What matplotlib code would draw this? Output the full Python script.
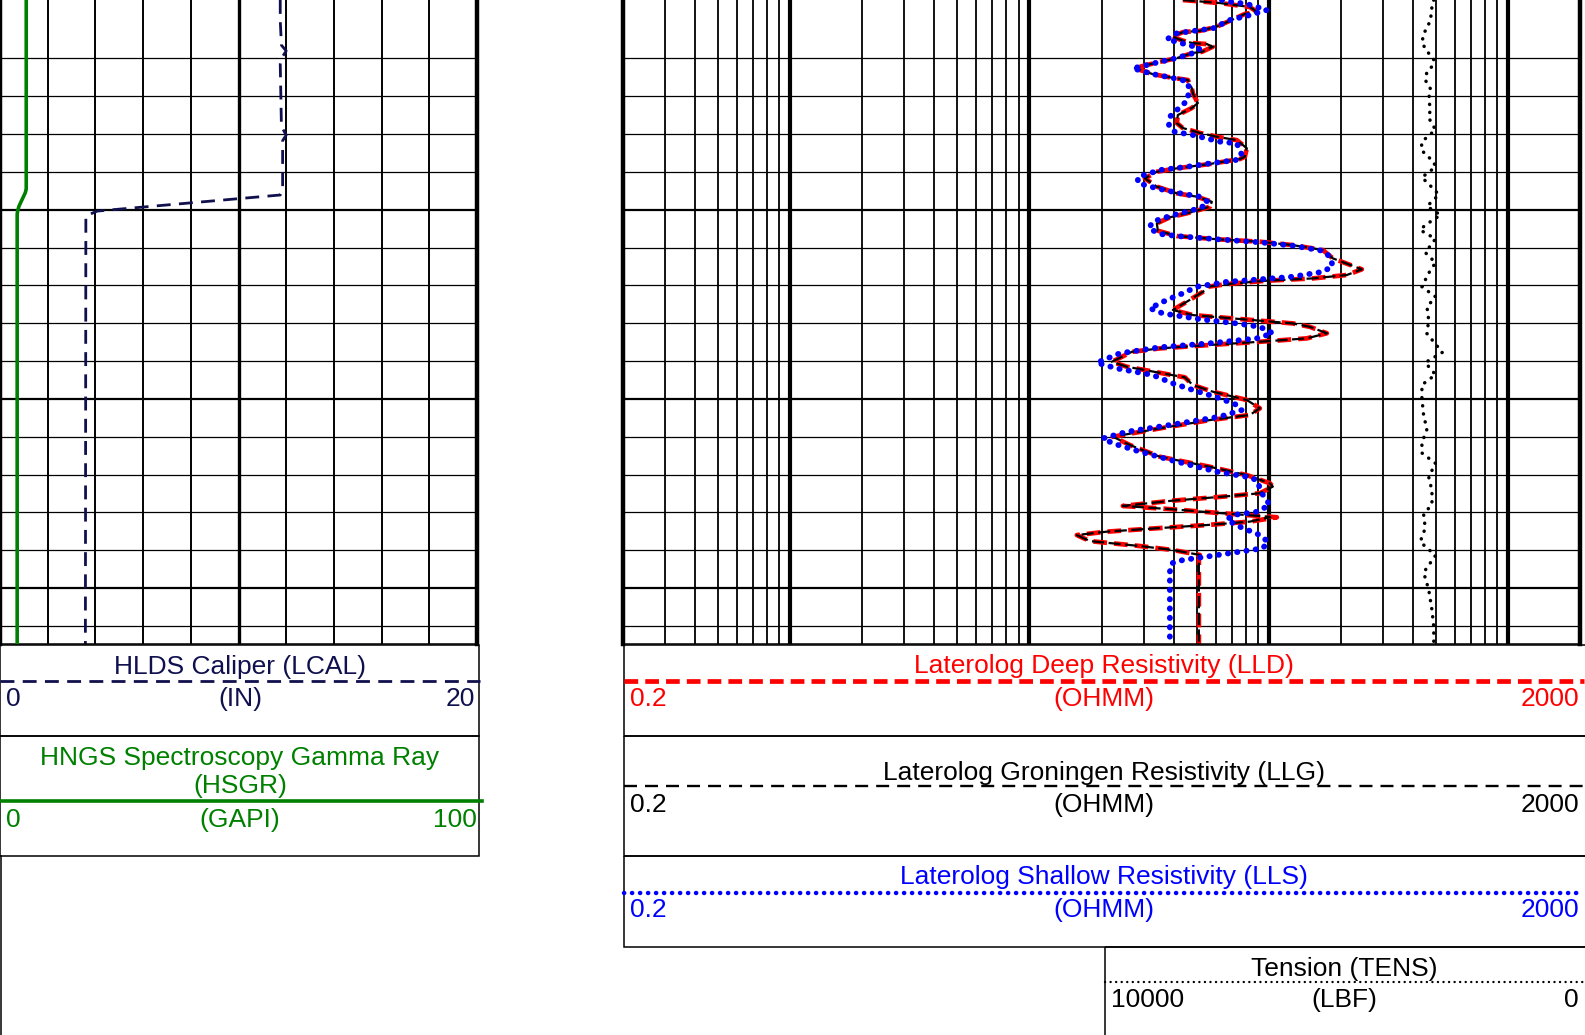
import numpy as np
import matplotlib.pyplot as plt
from matplotlib.patches import Rectangle
from matplotlib.ticker import FixedLocator, NullFormatter

plt.rcParams['font.family'] = ['Liberation Sans', 'DejaVu Sans']

# ---- curve data (depth in ft) ----
top_depth, bottom_depth = 2998.91, 3032.96

cal_depth = [2998.91, 2999.97, 3001.30, 3001.60, 3002.00, 3002.30, 3005.60, 3006.05, 3006.35,
             3008.95, 3009.22, 3010.07, 3010.33, 3032.96]
cal_in = [11.75, 11.75, 11.80, 12.0, 11.80, 11.75, 11.80, 12.0, 11.85,
          11.85, 11.75, 4.08, 3.60, 3.58]

gr_depth = [2998.91, 3008.90, 3009.10, 3009.80, 3010.05, 3010.25, 3032.96]
gr_api = [5.5, 5.5, 5.3, 4.0, 3.7, 3.6, 3.6]

res_depth = [2998.91, 2999.07, 2999.28, 2999.53, 2999.65, 3000.32, 3000.54, 3000.61, 3000.85, 3001.06,
             3001.19, 3001.24, 3001.38, 3001.65, 3001.71, 3001.98, 3002.18, 3002.44, 3002.52, 3002.83,
             3003.00, 3003.14, 3003.58, 3003.85, 3004.36, 3004.62, 3004.99, 3005.42, 3005.68, 3005.94,
             3006.14, 3006.32, 3006.75, 3007.20, 3007.32, 3007.58, 3007.81, 3007.99, 3008.34, 3008.78,
             3009.13, 3009.31, 3009.58, 3009.84, 3010.11, 3010.40, 3010.72, 3011.11, 3011.39, 3011.56,
             3011.69, 3011.87, 3012.13, 3012.57, 3013.15, 3013.45, 3013.63, 3013.75, 3013.93, 3014.07,
             3014.34, 3014.86, 3015.30, 3015.57, 3015.79, 3016.01, 3016.19, 3016.53, 3016.80, 3016.98,
             3017.15, 3017.33, 3017.51, 3018.04, 3018.30, 3018.69, 3018.86, 3019.27, 3019.62, 3020.06,
             3020.50, 3020.85, 3021.12, 3021.56, 3022.00, 3022.44, 3023.06, 3023.59, 3024.03, 3024.46,
             3024.64, 3024.99, 3025.17, 3025.38, 3025.66, 3025.84, 3026.05, 3026.23, 3026.26, 3026.49,
             3026.67, 3026.84, 3027.02, 3027.20, 3027.52, 3027.78, 3027.99, 3028.25, 3028.52, 3032.96]

lld_ohmm = [43.75, 62.47, 83.37, 89.19, 79.45, 60.69, 51.53, 43.75, 39.36, 43.75,
            48.18, 55.11, 58.40, 52.53, 48.18, 41.30, 35.07, 28.93, 27.57, 32.79,
            38.61, 45.92, 47.72, 48.18, 50.55, 47.72, 41.70, 41.30, 43.75, 51.53,
            60.69, 73.57, 81.00, 79.45, 75.71, 56.74, 41.30, 34.07, 30.36, 34.07,
            41.30, 50.06, 57.84, 56.74, 48.18, 38.61, 34.07, 34.40, 41.30, 60.69,
            91.80, 126.1, 168.3, 185.3, 245.0, 212.1, 152.9, 98.20, 66.83, 55.65,
            53.04, 45.49, 39.74, 48.18, 77.94, 126.1, 148.5, 175.0, 144.3, 91.80,
            56.74, 35.07, 26.79, 22.10, 25.53, 37.51, 44.60, 48.18, 58.40, 81.00,
            91.80, 83.37, 56.74, 35.07, 22.31, 26.28, 35.07, 56.74, 81.00, 101.06,
            104.02, 91.80, 64.30, 39.74, 24.57, 39.74, 64.30, 101.06, 108.09, 83.37,
            55.11, 34.07, 21.06, 15.78, 17.88, 28.93, 39.74, 51.53, 51.04, 51.04]

llg_ohmm = [43.75, 62.47, 83.37, 89.19, 79.45, 60.69, 51.53, 43.75, 39.36, 43.75,
            48.18, 55.11, 58.40, 52.53, 48.18, 41.30, 35.07, 28.93, 27.57, 32.79,
            38.61, 45.92, 47.72, 48.18, 50.55, 47.72, 41.70, 41.30, 43.75, 51.53,
            60.69, 73.57, 81.00, 79.45, 75.71, 56.74, 41.30, 34.07, 30.36, 34.07,
            41.30, 50.06, 57.84, 56.74, 48.18, 38.61, 34.07, 34.40, 41.30, 60.69,
            91.80, 126.1, 168.3, 185.3, 245.0, 212.1, 152.9, 98.20, 66.83, 55.65,
            53.04, 45.49, 39.74, 48.18, 77.94, 126.1, 148.5, 175.0, 144.3, 91.80,
            56.74, 35.07, 26.79, 22.10, 25.53, 37.51, 44.60, 48.18, 58.40, 81.00,
            91.80, 83.37, 56.74, 35.07, 22.31, 26.28, 35.07, 56.74, 81.00, 101.06,
            104.02, 91.80, 64.30, 39.74, 24.57, 39.74, 64.30, 101.06, 101.5, 83.37,
            55.11, 34.07, 21.06, 15.78, 17.88, 28.93, 39.74, 51.53, 51.04, 51.04]

lls_depth = [2998.91, 2999.00, 2999.12, 2999.44, 2999.71, 2999.97, 3000.41, 3000.55, 3000.67, 3000.99,
             3001.24, 3001.45, 3001.66, 3001.98, 3002.18, 3002.44, 3002.52, 3002.83, 3003.00, 3003.20,
             3003.51, 3004.20, 3004.73, 3005.08, 3005.57, 3005.88, 3006.05, 3006.40, 3006.49, 3007.11,
             3007.37, 3007.55, 3007.73, 3007.90, 3008.27, 3008.59, 3008.87, 3009.10, 3009.31, 3009.58,
             3009.75, 3010.02, 3010.33, 3010.63, 3010.98, 3011.28, 3011.39, 3011.56, 3011.72, 3011.90,
             3012.17, 3012.48, 3012.98, 3013.28, 3013.54, 3013.68, 3013.81, 3014.07, 3014.42, 3014.77,
             3015.21, 3015.48, 3015.79, 3016.01, 3016.19, 3016.53, 3016.80, 3017.06, 3017.27, 3017.59,
             3018.09, 3018.39, 3018.74, 3019.18, 3019.53, 3019.97, 3020.32, 3020.59, 3020.94, 3021.38,
             3021.74, 3022.09, 3022.35, 3022.79, 3023.32, 3023.85, 3024.12, 3024.29, 3024.99, 3025.61,
             3025.97, 3026.14, 3026.40, 3026.76, 3027.20, 3027.55, 3027.90, 3028.08, 3028.34, 3028.52,
             3028.69, 3029.14, 3032.96]
lls_ohmm = [63.68, 68.79, 81.00, 98.20, 83.37, 68.79, 58.40, 48.18, 41.30, 37.51,
            44.60, 51.53, 50.06, 41.30, 35.07, 28.93, 27.05, 32.79, 38.61, 45.49,
            46.37, 45.92, 41.30, 38.61, 38.24, 40.51, 48.18, 62.47, 73.57, 77.19,
            72.87, 56.74, 45.49, 35.07, 28.38, 28.38, 34.07, 41.30, 51.53, 55.65,
            55.11, 48.18, 38.61, 32.79, 31.55, 35.07, 41.30, 60.69, 91.80, 126.1,
            168.3, 180.0, 185.3, 168.3, 126.1, 91.80, 66.83, 50.06, 43.75, 37.51,
            31.85, 36.09, 51.53, 73.57, 91.80, 104.02, 89.19, 56.74, 35.07, 23.86,
            19.12, 23.19, 32.79, 39.74, 48.18, 62.47, 73.57, 77.19, 62.47, 38.61,
            25.53, 20.26, 22.31, 28.93, 41.30, 60.69, 81.00, 89.19, 93.58, 101.06,
            89.19, 70.79, 66.83, 75.71, 91.80, 99.13, 94.49, 75.71, 55.11, 43.75,
            39.36, 38.61, 38.61]

tens_depth = [2998.91, 2999.27, 3000.00, 3000.71, 3001.17, 3001.61, 3002.07, 3002.43, 3002.70, 3003.14,
              3003.60, 3004.15, 3004.68, 3005.14, 3005.77, 3006.40, 3006.84, 3007.48, 3007.74, 3008.29,
              3008.64, 3009.20, 3009.82, 3010.28, 3010.81, 3011.07, 3011.54, 3012.26, 3012.80, 3013.35,
              3014.07, 3014.60, 3015.14, 3015.83, 3016.55, 3017.10, 3017.54, 3018.08, 3018.72, 3019.26,
              3019.98, 3020.88, 3021.60, 3022.32, 3022.86, 3023.41, 3024.13, 3024.85, 3025.57, 3026.11,
              3026.83, 3027.56, 3028.28, 3029.18, 3030.08, 3031.16, 3032.06, 3032.96]
tens_lbf = [1528, 1547, 1563, 1634, 1652, 1599, 1528, 1547, 1599, 1617,
            1563, 1581, 1563, 1581, 1510, 1652, 1659, 1528, 1510, 1652,
            1581, 1474, 1599, 1457, 1617, 1670, 1510, 1617, 1510, 1581,
            1652, 1510, 1599, 1581, 1599, 1510, 1438, 1617, 1510, 1652,
            1652, 1634, 1599, 1652, 1652, 1510, 1581, 1547, 1547, 1634,
            1617, 1670, 1510, 1634, 1581, 1547, 1528, 1528]

# line styles shared by tracks and header samples
cal_style = dict(color='#10104e', lw=2.0, ls=(0, (5.0, 3.0)))
gr_style = dict(color='#008000', lw=2.6)
lld_style = dict(color='red', lw=3.4, ls=(0, (2.9, 1.5)))
llg_style = dict(color='black', lw=1.6, ls=(0, (5.5, 2.0)))
lls_style = dict(color='blue', lw=4.2, ls=(0, (0.05, 1.55)), dash_capstyle='round')
tens_style = dict(color='black', lw=2.5, ls=(0, (0.05, 2.3)), dash_capstyle='round')

# ---- layout (pixels) ----
W, H = 1585, 1035
fig = plt.figure(figsize=(W / 100, H / 100), dpi=100)
track_h = 644

ax1 = fig.add_axes([0, 1 - track_h / H, 477 / W, track_h / H])
ax2 = fig.add_axes([623 / W, 1 - track_h / H, 957 / W, track_h / H])

thin_depth = [d for d in np.arange(3000, 3033, 2) if d % 10 != 0]
thick_depth = [3010, 3020, 3030]

for ax in (ax1, ax2):
    ax.set_ylim(bottom_depth, top_depth)
    ax.yaxis.set_major_locator(FixedLocator(thick_depth))
    ax.yaxis.set_minor_locator(FixedLocator(thin_depth))
    ax.grid(axis='y', which='major', color='k', lw=1.6)
    ax.grid(axis='y', which='minor', color='k', lw=0.9)
    ax.tick_params(which='both', length=0, labelleft=False, labelbottom=False)
    ax.spines['top'].set_visible(False)
    ax.spines['bottom'].set_linewidth(1.1)
    ax.spines['left'].set_linewidth(3.2)
    ax.spines['right'].set_linewidth(3.2)
    ax.set_axisbelow(True)

# left track: caliper 0-20 in, gamma ray 0-100 gapi
ax1.set_xlim(0, 20)
ax1.xaxis.set_major_locator(FixedLocator([10]))
ax1.xaxis.set_minor_locator(FixedLocator([2, 4, 6, 8, 12, 14, 16, 18]))
ax1.grid(axis='x', which='major', color='k', lw=2.4)
ax1.grid(axis='x', which='minor', color='k', lw=1.4)
ax1.plot(cal_in, cal_depth, **cal_style)
ax1g = ax1.twiny()
ax1g.set_xlim(0, 100)
ax1g.set_ylim(bottom_depth, top_depth)
ax1g.axis('off')
ax1g.plot(gr_api, gr_depth, solid_capstyle='round', **gr_style)

# right track: resistivity 0.2-2000 ohmm (log), tension 10000-0 lbf
ax2.set_xscale('log')
ax2.set_xlim(0.2, 2000)
ax2.xaxis.set_major_locator(FixedLocator([1, 10, 100, 1000]))
minor = [m * 10.0 ** e for e in range(-1, 3) for m in range(2, 10) if 0.2 < m * 10.0 ** e < 2000]
ax2.xaxis.set_minor_locator(FixedLocator(minor))
ax2.xaxis.set_minor_formatter(NullFormatter())
ax2.grid(axis='x', which='major', color='k', lw=3.0)
ax2.grid(axis='x', which='minor', color='k', lw=1.3)

ax2.plot(lld_ohmm, res_depth, **lld_style)
ax2.plot(llg_ohmm, res_depth, **llg_style)
ax2.plot(lls_ohmm, lls_depth, **lls_style)

axt = ax2.twiny()
axt.set_xlim(10000, 0)
axt.set_ylim(bottom_depth, top_depth)
axt.axis('off')
axt.plot(tens_lbf, tens_depth, **tens_style)

# ---- header boxes ----
axh = fig.add_axes([0, 0, 1, 1], zorder=-1)
axh.set_xlim(0, W)
axh.set_ylim(H, 0)
axh.axis('off')

fs = 19

def box(x0, y0, x1, y1):
    axh.add_patch(Rectangle((x0, y0), x1 - x0, y1 - y0, fill=False, lw=1.1, ec='black'))

box(0, 645, 479, 736)
box(0, 736, 479, 856)
axh.plot([0.5, 0.5], [856, H], color='black', lw=1.1)
box(624, 645, 1590, 736)
box(624, 736, 1590, 856)
box(624, 856, 1590, 947)
box(1105, 947, 1590, 1040)

def header(cx, x0, x1, ytitle, title, yline, ylab, left, unit, right, style):
    color = style['color']
    for i, t in enumerate(title):
        axh.text(cx, ytitle + i * 28.5, t, color=color, fontsize=fs, ha='center', va='baseline')
    axh.plot([x0, x1], [yline, yline], **style)
    axh.text(x0 + 6, ylab, left, color=color, fontsize=fs, ha='left', va='baseline')
    axh.text(cx, ylab, unit, color=color, fontsize=fs, ha='center', va='baseline')
    axh.text(x1 - 5, ylab, right, color=color, fontsize=fs, ha='right', va='baseline')

header(240, 0, 480, 674, ['HLDS Caliper (LCAL)'], 681, 706, '0', '(IN)', '20', cal_style)
header(240, 0, 482, 765, ['HNGS Spectroscopy Gamma Ray', '(HSGR)'], 800.5, 827, '0', '(GAPI)', '100',
       gr_style)
header(1104, 624, 1584, 673, ['Laterolog Deep Resistivity (LLD)'], 681, 706, '0.2', '(OHMM)', '2000',
       lld_style)
header(1104, 624, 1584, 780, ['Laterolog Groningen Resistivity (LLG)'], 786, 812, '0.2', '(OHMM)', '2000',
       dict(color='black', lw=1.7, ls=(0, (5.5, 3.4))))
header(1104, 624, 1584, 884, ['Laterolog Shallow Resistivity (LLS)'], 892.5, 917, '0.2', '(OHMM)', '2000',
       dict(color='blue', lw=3.2, ls=(0, (0.05, 1.75)), dash_capstyle='round'))
header(1344, 1105, 1584, 976, ['Tension (TENS)'], 981.5, 1007, '10000', '(LBF)', '0',
       dict(color='black', lw=1.7, ls=(0, (0.05, 2.3)), dash_capstyle='round'))

fig.savefig('out.png', dpi=100)
